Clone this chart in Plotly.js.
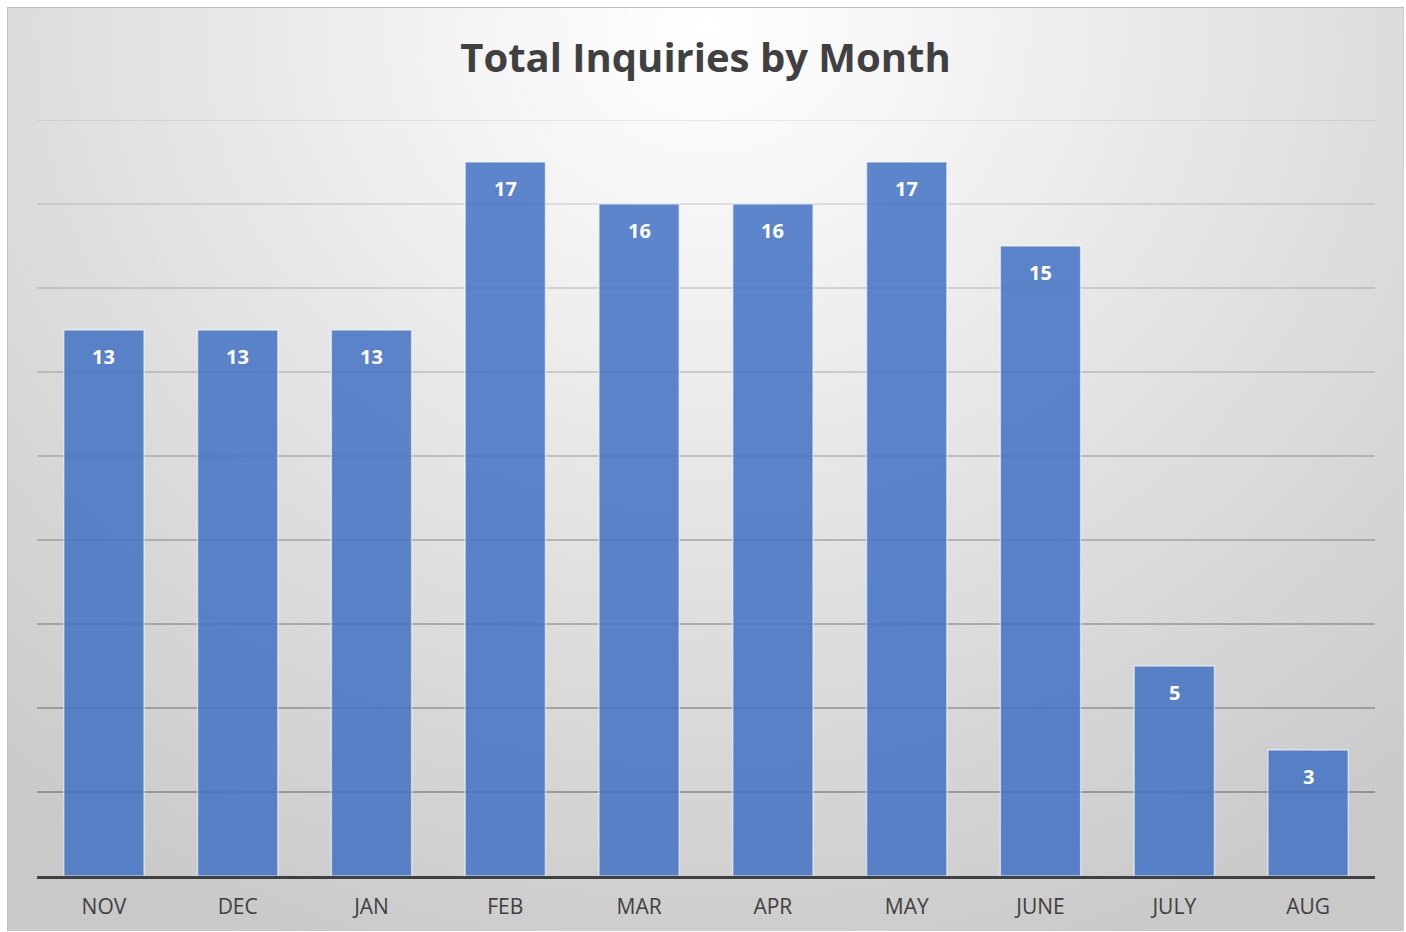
<!DOCTYPE html>
<html>
<head>
<meta charset="utf-8">
<script src="https://cdn.plot.ly/plotly-3.0.1.min.js"></script>
<style>
  html, body { margin: 0; padding: 0; background: #ffffff; width: 1406px; height: 932px; overflow: hidden; }
  #frame {
    position: absolute; left: 7px; top: 7px; width: 1397px; height: 924px;
    background: radial-gradient(ellipse 1100px 1000px at 700px 20px, #ffffff 0%, #f2f2f2 25%, #dedede 60%, #c9c9c9 100%);
    box-shadow: inset 1px 1px 0 #bdbdbd, inset -1px 0 0 #d0d0d0;
  }
  #chart { position: absolute; left: 0; top: 0; width: 1397px; height: 924px; }
</style>
</head>
<body>
<div id="frame"><div id="chart"></div></div>
<script>
const months = ['NOV', 'DEC', 'JAN', 'FEB', 'MAR', 'APR', 'MAY', 'JUNE', 'JULY', 'AUG'];
const inquiries = [13, 13, 13, 17, 16, 16, 17, 15, 5, 3];
const gridValues = [2, 4, 6, 8, 10, 12, 14, 16, 18];
const yMax = 18;

const shapes = gridValues.map(v => ({
  type: 'line', xref: 'paper', x0: 0, x1: 1, yref: 'y', y0: v, y1: v,
  layer: 'below',
  line: { color: 'rgba(60,60,60,' + (0.12 + 0.42 * (1 - v / yMax)).toFixed(3) + ')', width: 1.5 }
}));

const annotations = months.map((m, i) => ({
  x: m, y: inquiries[i], xref: 'x', yref: 'y',
  text: String(inquiries[i]), showarrow: false, yshift: -26,
  font: { family: 'Open Sans, sans-serif', size: 20, color: '#ffffff', weight: 'bold' }
}));

const trace = {
  type: 'bar', x: months, y: inquiries,
  marker: { color: 'rgba(68,114,196,0.86)', line: { color: 'rgba(255,255,255,0.55)', width: 1.5 } },
  hoverinfo: 'x+y'
};

const layout = {
  width: 1397, height: 924,
  paper_bgcolor: 'rgba(0,0,0,0)', plot_bgcolor: 'rgba(0,0,0,0)',
  margin: { l: 30, r: 29, t: 113, b: 55 },
  title: {
    text: '<b>Total Inquiries by Month</b>',
    font: { family: 'Open Sans, sans-serif', size: 40, color: '#404040' },
    x: 0.5, xanchor: 'center', y: 1 - 51 / 924, yanchor: 'middle', yref: 'container'
  },
  bargap: 0.4,
  showlegend: false,
  xaxis: {
    type: 'category', showgrid: false, zeroline: false,
    showline: true, linecolor: '#404040', linewidth: 3,
    ticks: '', tickfont: { family: 'Open Sans, sans-serif', size: 21, color: '#404040' },
    ticklabelstandoff: 10
  },
  yaxis: {
    range: [0, yMax], showgrid: false, zeroline: false, showticklabels: false, ticks: ''
  },
  shapes: shapes,
  annotations: annotations
};

Plotly.newPlot('chart', [trace], layout, { displayModeBar: false, staticPlot: true });
</script>
</body>
</html>
